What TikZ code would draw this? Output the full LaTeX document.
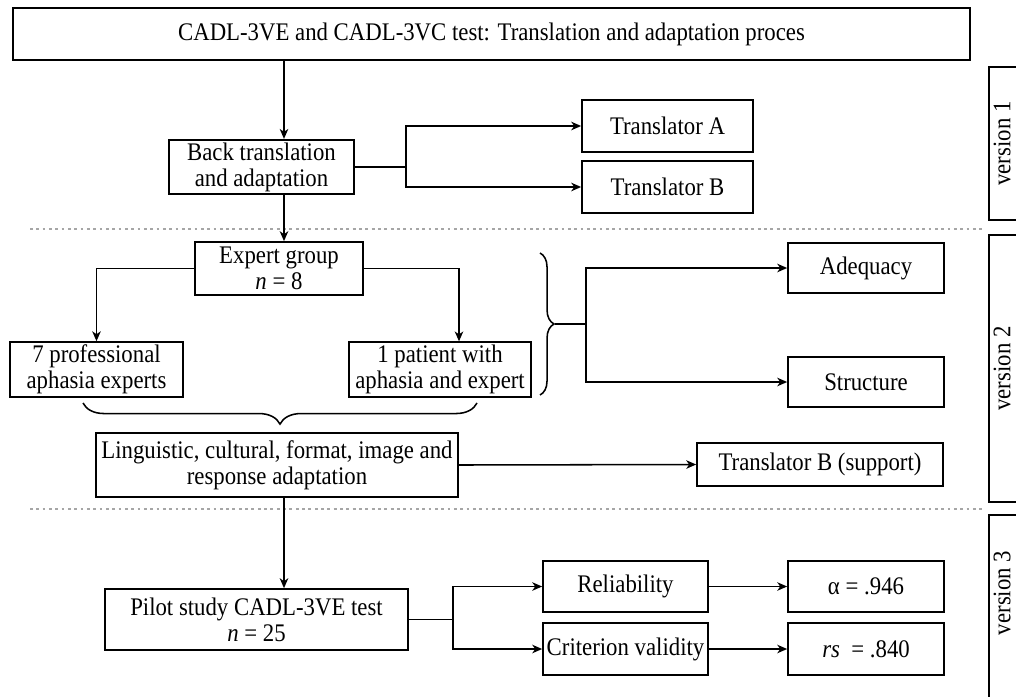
\documentclass[tikz,border=0pt]{standalone}
\usepackage{fontspec}
\setmainfont{Liberation Serif}[FakeStretch = 0.9]
\usetikzlibrary{calc, arrows.meta, decorations.pathreplacing}

\tikzset{
	box/.style = {draw, line width = 1.2pt, align = center, inner sep = 2pt, font = \fontsize{18}{18.5}\selectfont},
	dims/.style 2 args = {minimum width = #1*0.025cm, minimum height = #2*0.025cm},
	label text/.style = {font = \fontsize{18}{18.5}\selectfont, inner sep = 0pt},
	link/.style = {line width = 1.1pt},
	split/.style = {gray!70, line width = 0.8pt, dash pattern = on 2pt off 2.5pt},
}

\begin{document}
\begin{tikzpicture}[x = 0.025cm, y = -0.025cm]
			\useasboundingbox (0,0) rectangle (1016,696);
			\clip (0,0) rectangle (1016,696);
			
			\coordinate (spine) at (284,0);
			\coordinate (fork A) at (406,0);
			\coordinate (fork B) at (586,0);
			\coordinate (fork C) at (453,0);
			\coordinate (brace top) at (540,253);
			\coordinate (brace bottom) at (540,395);
			\coordinate (brace tip) at (555,324);
			\coordinate (under left) at (83,403);
			\coordinate (under right) at (477,403);
			
			\node [box, dims = {957}{52}] (title) at (491.5,34) {CADL-3VE and CADL-3VC test: Translation and adaptation proces};
			\node [box, dims = {185}{52}] (back) at (261.5,167) {Back translation\\and adaptation};
			\node [box, dims = {171}{52}] (translator A) at (667.5,126) {Translator A};
			\node [box, dims = {171}{52}] (translator B) at (667.5,187) {Translator B};
			\node [box, dims = {168}{53}] (expert group) at (279,268.5) {Expert group\\\textit{n} = 8};
			\node [box, dims = {173}{53}] (professionals) at (96.5,369.5) {7 professional\\aphasia experts};
			\node [box, dims = {182}{53}] (patient) at (440,369.5) {1 patient with\\aphasia and expert};
			\node [box, dims = {156}{50}] (adequacy) at (866,268) {Adequacy};
			\node [box, dims = {156}{50}] (structure) at (866,382) {Structure};
			\node [box, dims = {362}{64}] (adaptation) at (277,465) {Linguistic, cultural, format, image and\\response adaptation};
			\node [box, dims = {246}{43}] (support) at (820,464.5) {Translator B (support)};
			\node [box, dims = {303}{61}] (pilot) at (256.5,619.5) {Pilot study CADL-3VE test\\\textit{n} = 25};
			\node [box, dims = {165}{51}] (reliability) at (625.5,586.5) {Reliability};
			\node [box, dims = {165}{52}] (validity) at (625.5,649) {Criterion validity};
			\node [box, dims = {156}{51}] (alpha) at (866,586.5) {α = .946};
			\node [box, dims = {156}{52}] (spearman) at (866,649) {\textit{rs}\ \ = .840};
			
			\node [box, dims = {38}{153}] (version 1) at (1008,143.5) {};
			\node [box, dims = {38}{267}] (version 2) at (1008,368.5) {};
			\node [box, dims = {38}{205}] (version 3) at (1008,617.5) {};
			\node [label text, rotate = 90] (version 1 label) at (1002,143.5) {version 1};
			\node [label text, rotate = 90] (version 2 label) at (1002,368.5) {version 2};
			\node [label text, rotate = 90] (version 3 label) at (1002,593) {version 3};
			
			\draw [split] (30,229) -- (983,229);
			\draw [split] (30,509) -- (983,509);
			
			\draw [link, decorate, decoration = {brace, amplitude = 10pt}] (brace top) -- (brace bottom);
			\draw [link, decorate, decoration = {brace, amplitude = 15pt}] (under right) -- (under left);
			
			\draw [link] (back.east) -- (back.east -| fork A);
			\draw [link] (brace tip) -- (brace tip -| fork B);
			\draw [link] (pilot.east) -- (pilot.east -| fork C);
			
			\begin{scope}[link, -{Stealth[length = 7pt, width = 6pt, inset = 2pt]}]
				\draw (title.south -| spine) -- (back.north -| spine);
				\draw (back.south -| spine) -- (expert group.north -| spine);
				\draw (back.east -| fork A) |- (translator A.west);
				\draw (back.east -| fork A) |- (translator B.west);
				\draw (expert group.west) -| (professionals.north);
				\draw (expert group.east) -| ($ (patient.north) + (19,0) $);
				\draw (brace tip -| fork B) |- (adequacy.west);
				\draw (brace tip -| fork B) |- (structure.west);
				\draw (adaptation.east) -- (support.west);
				\draw (adaptation.south -| spine) -- (pilot.north -| spine);
				\draw (pilot.east -| fork C) |- (reliability.west);
				\draw (pilot.east -| fork C) |- (validity.west);
				\draw (reliability.east) -- (alpha.west);
				\draw (validity.east) -- (spearman.west);
			\end{scope}
		\end{tikzpicture}
\end{document}
